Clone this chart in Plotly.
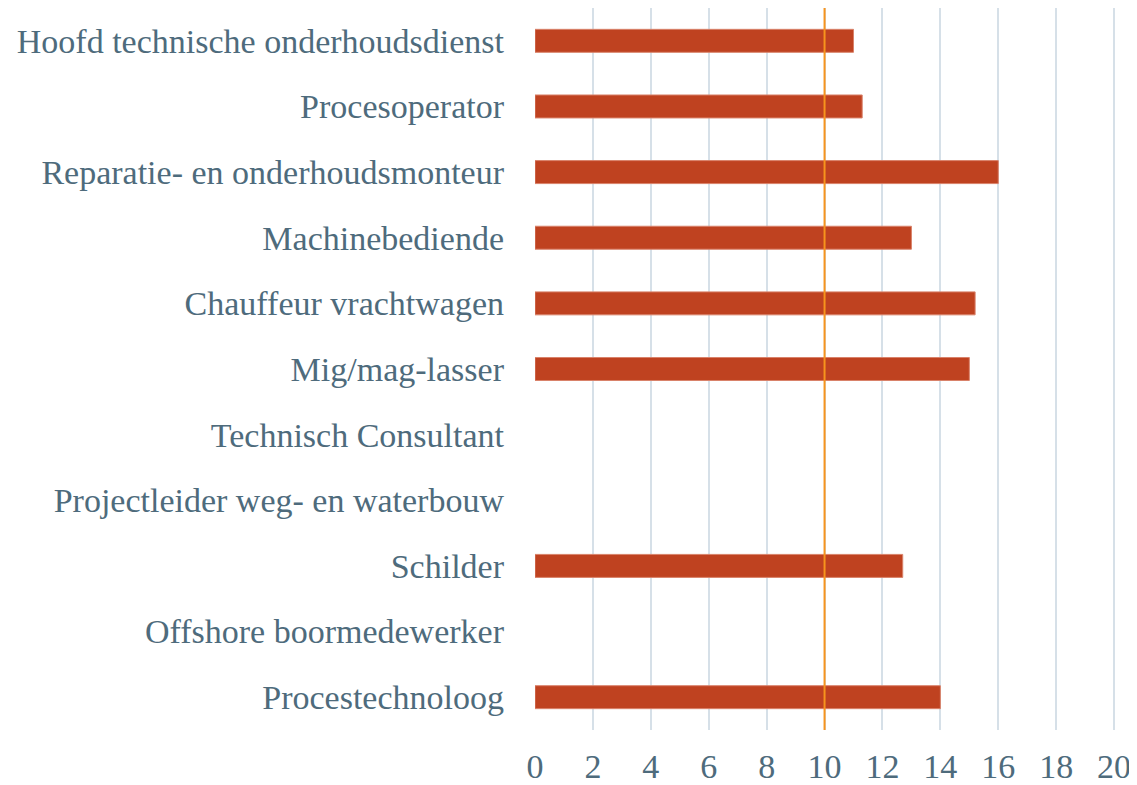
import plotly.graph_objects as go

beroepen = [
    "Hoofd technische onderhoudsdienst",
    "Procesoperator",
    "Reparatie- en onderhoudsmonteur",
    "Machinebediende",
    "Chauffeur vrachtwagen",
    "Mig/mag-lasser",
    "Technisch Consultant",
    "Projectleider weg- en waterbouw",
    "Schilder",
    "Offshore boormedewerker",
    "Procestechnoloog",
]
waarden = [11, 11.3, 16, 13, 15.2, 15, None, None, 12.7, None, 14]
drempel = 10
x_ticks = list(range(0, 21, 2))

tekst_kleur = "#4E6B7C"
bar_kleur = "#BF4220"
lijn_kleur = "#F7941D"
grid_kleur = "#D6E0E8"

fig = go.Figure()
fig.add_trace(
    go.Bar(
        x=waarden,
        y=beroepen,
        orientation="h",
        marker=dict(color=bar_kleur, line=dict(color="#D9826A", width=1)),
        showlegend=False,
    )
)

# verticale lijn op de drempelwaarde
fig.add_shape(
    type="line", xref="x", yref="paper",
    x0=drempel, x1=drempel, y0=0, y1=1,
    line=dict(color=lijn_kleur, width=2),
    layer="above",
)

# de pagina heeft 8px marge, dus de figuur is iets kleiner dan het venster
fig.update_layout(
    width=1129,
    height=777,
    paper_bgcolor="white",
    plot_bgcolor="white",
    bargap=0.65,
    margin=dict(l=527, r=20, t=0, b=55),
    font=dict(family="Liberation Serif, DejaVu Serif, serif", size=34, color=tekst_kleur),
)
fig.update_xaxes(
    range=[0, 20.1],
    tickvals=x_ticks,
    showgrid=True,
    gridcolor=grid_kleur,
    gridwidth=1.5,
    zeroline=False,
    showline=False,
    automargin=False,
    ticklabelstandoff=13,
    tickfont=dict(size=34, color=tekst_kleur),
)
fig.update_yaxes(
    autorange="reversed",
    showgrid=False,
    zeroline=False,
    showline=False,
    automargin=False,
    ticklabelstandoff=30,
    tickfont=dict(size=34, color=tekst_kleur),
)

fig.write_html("out.html")
